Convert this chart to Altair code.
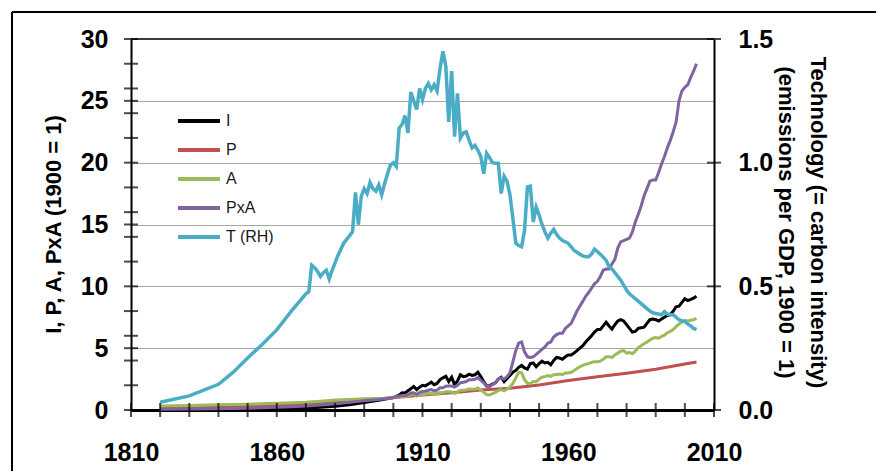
import altair as alt
import pandas as pd

# Series names and colours (Excel-style palette)
SERIES = ["I", "P", "A", "PxA", "T (RH)"]
COLORS = ["#000000", "#c0504d", "#9bbb59", "#8064a2", "#4bacc6"]

# Early sparse years, then annual data 1900-2004
early_years = [1820, 1830, 1840, 1850, 1860, 1865, 1870, 1875, 1880, 1885, 1890, 1895]
annual_years = list(range(1900, 2005))

# I: emissions (1900 = 1)
i_early = [0.005, 0.01, 0.02, 0.04, 0.08, 0.11, 0.15, 0.22, 0.3, 0.42, 0.6, 0.78]
i_annual = [
    1.0, 1.1, 1.2, 1.4, 1.38, 1.55, 1.72, 1.9, 1.65, 1.85,
    2.0, 1.95, 2.1, 2.25, 2.05, 2.15, 2.45, 2.6, 2.72, 2.3,
    2.65, 2.05, 2.35, 2.85, 2.7, 2.75, 2.9, 2.8, 2.85, 3.05,
    2.7, 2.3, 1.95, 1.95, 2.1, 2.2, 2.5, 2.65, 2.3, 2.55,
    2.8, 3.05, 3.2, 3.45, 3.6, 3.4, 3.3, 3.75, 3.8, 3.5,
    3.75, 3.95, 3.8, 3.85, 3.65, 4.0, 4.25, 4.2, 4.1, 4.3,
    4.45, 4.45, 4.6, 4.8, 5.0, 5.2, 5.5, 5.75, 6.0, 6.3,
    6.5, 6.5, 6.8, 7.1, 6.8, 6.55, 6.9, 7.2, 7.3, 7.2,
    6.9, 6.6, 6.3, 6.35, 6.6, 6.65, 6.7, 7.0, 7.3, 7.35,
    7.3, 7.2, 7.35, 7.5, 7.65, 7.7, 8.0, 8.35, 8.4, 8.7,
    9.0, 8.85, 8.95, 9.05, 9.2,
]

# P: population (1900 = 1)
p_years = [1820, 1830, 1840, 1850, 1860, 1870, 1880, 1890, 1900, 1910,
           1920, 1930, 1940, 1950, 1960, 1970, 1980, 1990, 2000, 2004]
p_vals = [0.13, 0.17, 0.23, 0.31, 0.41, 0.51, 0.66, 0.83, 1.0, 1.21,
          1.4, 1.62, 1.76, 2.02, 2.38, 2.68, 2.98, 3.3, 3.72, 3.88]

# A: affluence, GDP per person (1900 = 1)
a_early = [0.32, 0.36, 0.42, 0.47, 0.55, 0.58, 0.62, 0.7, 0.8, 0.85, 0.9, 0.92]
a_annual = [
    1.0, 1.1, 1.08, 1.12, 1.1, 1.15, 1.25, 1.25, 1.12, 1.25,
    1.27, 1.28, 1.33, 1.36, 1.25, 1.28, 1.42, 1.4, 1.48, 1.48,
    1.45, 1.35, 1.45, 1.6, 1.6, 1.62, 1.7, 1.68, 1.68, 1.78,
    1.6, 1.45, 1.25, 1.22, 1.32, 1.42, 1.58, 1.65, 1.55, 1.68,
    1.85, 2.15, 2.6, 3.05, 3.0, 2.45, 2.15, 2.15, 2.3, 2.28,
    2.5, 2.65, 2.7, 2.78, 2.72, 2.85, 2.88, 2.9, 2.85, 3.0,
    3.0, 3.05, 3.2, 3.35, 3.5, 3.6, 3.7, 3.75, 3.85, 3.9,
    3.9, 3.95, 4.1, 4.3, 4.3, 4.25, 4.45, 4.6, 4.75, 4.8,
    4.6, 4.65, 4.55, 4.75, 5.05, 5.2, 5.35, 5.5, 5.65, 5.8,
    5.85, 5.8, 5.95, 6.05, 6.25, 6.35, 6.5, 6.75, 6.95, 7.1,
    7.25, 7.2, 7.25, 7.3, 7.4,
]

# PxA: total GDP (1900 = 1)
pxa_early = [0.06, 0.08, 0.11, 0.15, 0.22, 0.27, 0.32, 0.4, 0.5, 0.62, 0.75, 0.85]
pxa_annual = [
    1.0, 1.12, 1.12, 1.18, 1.16, 1.25, 1.38, 1.4, 1.25, 1.42,
    1.5, 1.52, 1.6, 1.66, 1.55, 1.6, 1.8, 1.8, 1.92, 1.95,
    1.95, 1.85, 2.0, 2.2, 2.25, 2.3, 2.45, 2.45, 2.48, 2.62,
    2.4, 2.2, 1.92, 1.9, 2.05, 2.2, 2.5, 2.6, 2.5, 2.7,
    3.0, 3.9, 4.8, 5.4, 5.5, 4.7, 4.3, 4.25, 4.3, 4.5,
    4.7, 4.9, 5.1, 5.4, 5.5, 5.9, 6.1, 6.2, 6.2, 6.6,
    6.8, 7.0, 7.5, 8.0, 8.4, 8.8, 9.2, 9.5, 9.85, 10.2,
    10.4, 10.8, 11.3, 11.4, 11.4, 11.8, 12.2, 13.1, 13.6, 13.7,
    13.8, 13.9, 14.4, 15.2, 15.8, 16.5, 17.3, 17.9, 18.5, 18.6,
    18.6, 19.2, 19.9, 20.5, 21.2, 21.8, 22.5, 23.3, 25.0, 25.8,
    26.1, 26.3, 26.9, 27.4, 28.0,
]

# T: technology / carbon intensity (1900 = 1), right-hand axis
t_years = [1820, 1830, 1840, 1845, 1850, 1855, 1860, 1865] + list(range(1870, 2005))
t_vals = [
    0.031, 0.057, 0.104, 0.152, 0.210, 0.265, 0.324, 0.400,
    0.470, 0.478, 0.585, 0.575, 0.560, 0.540, 0.555, 0.565, 0.530, 0.565,
    0.595, 0.625, 0.650, 0.675, 0.690, 0.705, 0.720, 0.880, 0.750, 0.865,
    0.895, 0.875, 0.920, 0.895, 0.885, 0.910, 0.870, 0.915, 0.955, 0.990,
    1.000, 0.985, 1.140, 1.155, 1.190, 1.120, 1.285, 1.250, 1.215, 1.300,
    1.255, 1.300, 1.320, 1.295, 1.315, 1.290, 1.380, 1.450, 1.390, 1.165,
    1.370, 1.105, 1.280, 1.100, 1.120, 1.125, 1.090, 1.060, 1.070, 1.050,
    1.025, 0.955, 1.038, 1.020, 1.000, 0.998, 0.998, 0.875, 0.945, 0.925,
    0.870, 0.775, 0.675, 0.665, 0.660, 0.725, 0.902, 0.905, 0.760, 0.820,
    0.788, 0.750, 0.720, 0.695, 0.715, 0.730, 0.710, 0.695, 0.685, 0.680,
    0.674, 0.660, 0.645, 0.638, 0.630, 0.623, 0.620, 0.620, 0.630, 0.650,
    0.640, 0.630, 0.618, 0.605, 0.580, 0.570, 0.555, 0.540, 0.525, 0.505,
    0.485, 0.470, 0.460, 0.450, 0.440, 0.430, 0.420, 0.410, 0.400, 0.393,
    0.390, 0.388, 0.385, 0.398, 0.388, 0.385, 0.385, 0.375, 0.365, 0.360,
    0.358, 0.348, 0.340, 0.330, 0.325,
]

# Axis tick positions
x_tick_years = list(range(1810, 2011, 10))
left_tick_vals = [0, 2, 4, 5, 6, 8, 10, 12, 14, 15, 16, 18, 20, 22, 24, 25, 26, 28, 30]
right_tick_vals = [0, 0.5, 1.0, 1.5]


def frame(name, years, vals):
    return pd.DataFrame({"series": name, "year": years, "value": vals})


left_df = pd.concat([
    frame("I", early_years + annual_years, i_early + i_annual),
    frame("P", p_years, p_vals),
    frame("A", early_years + annual_years, a_early + a_annual),
    frame("PxA", early_years + annual_years, pxa_early + pxa_annual),
], ignore_index=True)
right_df = frame("T (RH)", t_years, t_vals)

BOLD_NARROW = "Liberation Sans Narrow, Liberation Sans"
TITLE_FONT = "Liberation Sans"

x_scale = alt.Scale(domain=[1810, 2010], nice=False, zero=False)
left_scale = alt.Scale(domain=[0, 30], nice=False)
right_scale = alt.Scale(domain=[0, 1.5], nice=False)

color_scale = alt.Scale(domain=SERIES, range=COLORS)
legend = alt.Legend(
    title=None, orient="none", legendX=45, legendY=71, padding=0,
    symbolType="stroke", symbolSize=1764, symbolStrokeWidth=4,
    clipHeight=22, rowPadding=7, labelOffset=4,
    labelFont=TITLE_FONT, labelFontSize=16, labelColor="#1a1a1a",
)

x_axis = alt.Axis(
    values=[1810, 1860, 1910, 1960, 2010], format="d", grid=False, ticks=False,
    labelFlush=False, domainColor="black", domainWidth=3, labelPadding=30,
    labelFont=BOLD_NARROW, labelFontSize=25, labelFontWeight="bold", labelColor="black",
    title=None,
)

left_axis = alt.Axis(
    values=[0, 5, 10, 15, 20, 25, 30], format="d", ticks=False, labelFlush=False,
    grid=True, gridColor="#a6a6a6", gridWidth=1,
    domainColor="black", domainWidth=2, labelPadding=23,
    labelFont=BOLD_NARROW, labelFontSize=25, labelFontWeight="bold", labelColor="black",
    title="I, P, A, PxA (1900 = 1)", titleFont=TITLE_FONT, titleFontSize=22,
    titleFontWeight="bold", titleColor="black", titleAngle=270,
    titleX=-78, titleY=185, titleAlign="center", titleBaseline="middle",
)

right_axis = alt.Axis(
    orient="right", values=right_tick_vals, format=".1f", ticks=False, grid=False,
    labelFlush=False, domainColor="black", domainWidth=2, labelPadding=24,
    labelFont=BOLD_NARROW, labelFontSize=25, labelFontWeight="bold", labelColor="black",
    title=["Technology (= carbon intensity)", "(emissions per GDP, 1900 = 1)"],
    titleFont=TITLE_FONT, titleFontSize=22, titleFontWeight="bold", titleColor="black",
    titleAngle=90, titleX=103, titleY=183, titleAlign="center", titleBaseline="middle",
    titleLineHeight=32,
)

# Outer frame of the figure (top and left edges)
frame_left = alt.Chart().mark_rule(color="black", strokeWidth=2).encode(
    x=alt.value(-119), y=alt.value(-27), y2=alt.value(440)
)
frame_top = alt.Chart().mark_rule(color="black", strokeWidth=2).encode(
    x=alt.value(-119), x2=alt.value(760), y=alt.value(-27)
)
# Dark top edge of the plot area
plot_top = alt.Chart().mark_rule(color="#3a3a3a", strokeWidth=2).encode(
    x=alt.value(0), x2=alt.value(583), y=alt.value(0)
)

left_lines = alt.Chart(left_df).mark_line(strokeWidth=3).encode(
    x=alt.X("year:Q", scale=x_scale, axis=x_axis),
    y=alt.Y("value:Q", scale=left_scale, axis=left_axis),
    color=alt.Color("series:N", scale=color_scale, legend=legend),
    detail="series:N",
)

left_ticks = alt.Chart(pd.DataFrame({"v": left_tick_vals})).mark_tick(
    orient="horizontal", size=14, thickness=2, color="black"
).encode(
    x=alt.XDatum(1810, type="quantitative", scale=x_scale),
    y=alt.Y("v:Q", scale=left_scale, axis=None),
)

bottom_ticks = alt.Chart(pd.DataFrame({"yr": x_tick_years})).mark_tick(
    orient="vertical", size=14, thickness=2, color="black"
).encode(
    x=alt.X("yr:Q", scale=x_scale, axis=x_axis),
    y=alt.YDatum(0, type="quantitative", scale=left_scale, axis=None),
)

t_line = alt.Chart(right_df).mark_line(strokeWidth=3.5).encode(
    x=alt.X("year:Q", scale=x_scale, axis=x_axis),
    y=alt.Y("value:Q", scale=right_scale, axis=right_axis),
    color=alt.Color("series:N", scale=color_scale, legend=legend),
)

right_ticks = alt.Chart(pd.DataFrame({"v": right_tick_vals})).mark_tick(
    orient="horizontal", size=14, thickness=2, color="black"
).encode(
    x=alt.XDatum(2010, type="quantitative", scale=x_scale),
    y=alt.Y("v:Q", scale=right_scale, axis=None),
)

chart = alt.layer(
    frame_left, frame_top, left_lines, t_line, plot_top,
    left_ticks, bottom_ticks, right_ticks,
).resolve_scale(
    y="independent"
).properties(
    width=583, height=371, autosize="none",
    padding={"left": 131, "top": 39, "right": 162, "bottom": 61},
    background="white",
).configure_view(stroke=None)

chart.save("out.html", embed_options={"renderer": "svg", "actions": False})
